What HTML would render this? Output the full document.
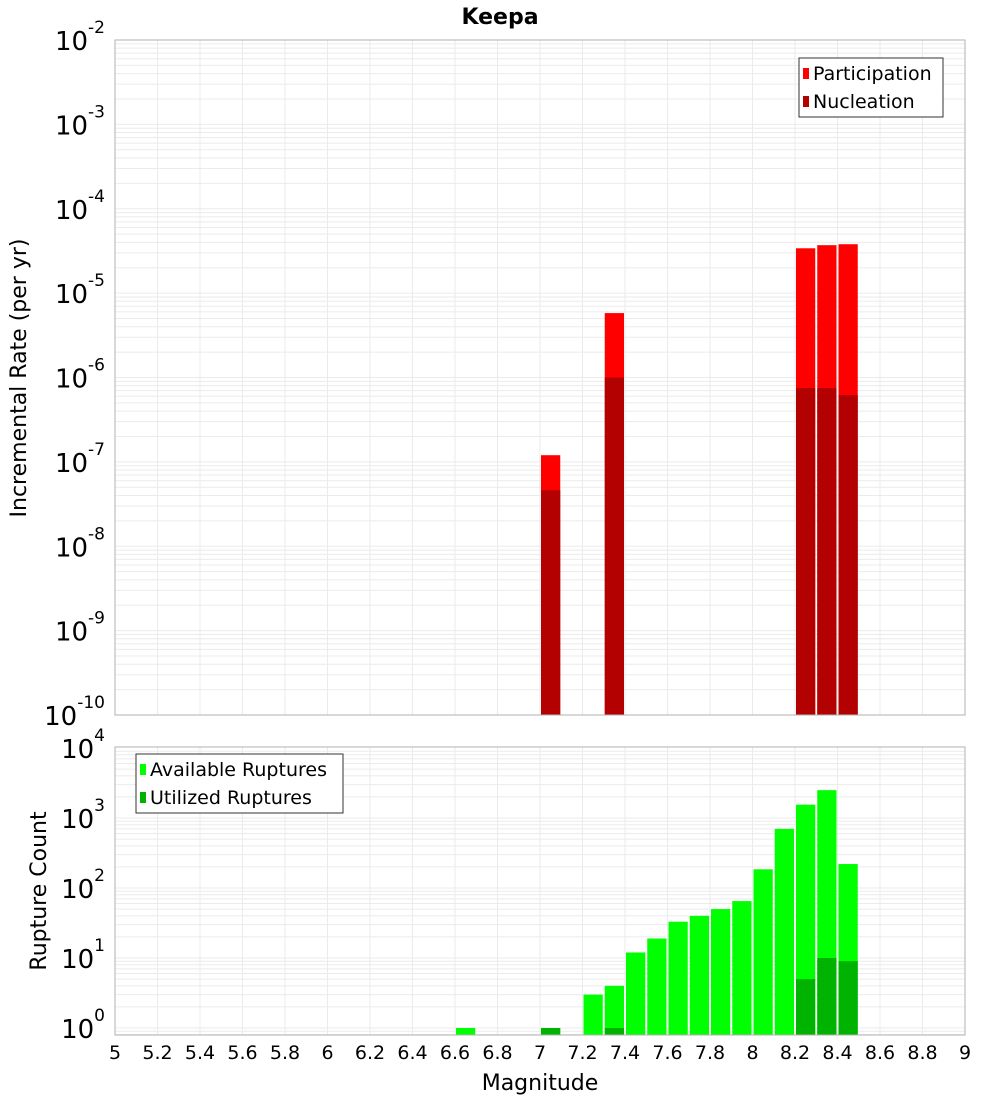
<!DOCTYPE html>
<html><head><meta charset="utf-8"><style>
body{margin:0;background:#fff;}
svg{display:block;font-family:"DejaVu Sans","Liberation Sans",sans-serif;}
</style></head><body>
<svg id="c" width="1000" height="1100" xmlns="http://www.w3.org/2000/svg"></svg>
<script>
// Top panel data
const topMags = [7.05, 7.35, 8.25, 8.35, 8.45];
const participation = [1.2e-7, 5.8e-6, 3.4e-5, 3.7e-5, 3.8e-5];
const nucleation = [4.6e-8, 1.0e-6, 7.5e-7, 7.5e-7, 6.2e-7];
// Bottom panel data
const botMags = [6.65, 7.05, 7.25, 7.35, 7.45, 7.55, 7.65, 7.75, 7.85, 7.95, 8.05, 8.15, 8.25, 8.35, 8.45];
const available = [1, 1, 3, 4, 12, 19, 33, 40, 50, 65, 185, 700, 1550, 2500, 220];
const utilized = [0, 1, 0, 1, 0, 0, 0, 0, 0, 0, 0, 0, 5, 10, 9];
const xTicks = [5,5.2,5.4,5.6,5.8,6,6.2,6.4,6.6,6.8,7,7.2,7.4,7.6,7.8,8,8.2,8.4,8.6,8.8,9];
const topExps = [-2,-3,-4,-5,-6,-7,-8,-9,-10];
const botExps = [4,3,2,1,0];

const NS="http://www.w3.org/2000/svg";
const svg=document.getElementById('c');
function mk(tag,attrs,parent){const e=document.createElementNS(NS,tag);for(const k in attrs)e.setAttribute(k,attrs[k]);(parent||svg).appendChild(e);return e;}
const X0=115,X1=965;
const x=m=>X0+(m-5)/4*(X1-X0);
const T0=40,T1=715;
const yT=v=>T0+(-2-Math.log10(v))/8*(T1-T0);
const B0=747,B1=1035,BD=70,Bz=1028;
const yB=v=>Bz-Math.log10(v)*BD;

function grid(top,bot,yfun,lo,hi){
  for(let e=lo;e<hi;e++){for(let k=1;k<10;k++){const yy=yfun(k*Math.pow(10,e));if(yy<top||yy>bot)continue;
    const l=mk('line',{x1:X0,x2:X1,y1:yy,y2:yy,stroke:'#ebebeb','stroke-width':1});
    
    }}
  xTicks.forEach(t=>{const l=mk('line',{x1:x(t),x2:x(t),y1:top,y2:bot,stroke:'#ebebeb','stroke-width':1});
    
    });
}
grid(T0,T1,yT,-10,-2);
grid(B0,B1,yB,-1,4);

// bars top
const w=x(5.1)-x(5);
topMags.forEach((m,i)=>{
  const r=mk('rect',{x:x(m)-w/2+1,y:yT(participation[i]),width:w-2,height:T1-yT(participation[i]),fill:'#ff0000'});
  
  
  const n=mk('rect',{x:x(m)-w/2+1,y:yT(nucleation[i]),width:w-2,height:T1-yT(nucleation[i]),fill:'#b30000'});
  
  
});
botMags.forEach((m,i)=>{
  const r=mk('rect',{x:x(m)-w/2+1,y:yB(available[i]),width:w-2,height:B1-yB(available[i]),fill:'#00ff00'});
  
  
  if(utilized[i]>0){
  const n=mk('rect',{x:x(m)-w/2+1,y:yB(utilized[i]),width:w-2,height:B1-yB(utilized[i]),fill:'#00b300'});
  
  }
});

// frames
const f1=mk('rect',{x:X0,y:T0,width:X1-X0,height:T1-T0,fill:'none',stroke:'#b0b0b0'});


const f2=mk('rect',{x:X0,y:B0,width:X1-X0,height:B1-B0,fill:'none',stroke:'#b0b0b0'});



// y tick labels
function ylab(e,yy,name){
  const t=mk('text',{x:105,y:yy+10,'text-anchor':'end','font-size':26,fill:'#000'});
  
  
  const a=mk('tspan',{},t);a.textContent='10';
  const b=mk('tspan',{dy:-17,'font-size':17},t);b.textContent=String(e);
}
topExps.forEach(e=>ylab(e,yT(Math.pow(10,e)),'top-y-tick-label'));
botExps.forEach(e=>ylab(e,yB(Math.pow(10,e)),'bottom-y-tick-label'));
xTicks.forEach(t=>{const l=mk('text',{x:x(t),y:1059,'text-anchor':'middle','font-size':19,fill:'#000'});
  l.textContent=String(t);
  
  });

function txt(s,attrs,name){const t=mk('text',attrs);t.textContent=s;return t;}
txt('Keepa',{x:500,y:24,'text-anchor':'middle','font-size':22,'font-weight':'bold'},'chart-title');
txt('Magnitude',{x:540,y:1090,'text-anchor':'middle','font-size':22},'x-axis-title');
txt('Incremental Rate (per yr)',{x:0,y:0,'text-anchor':'middle','font-size':22,transform:'translate(26,378) rotate(-90)'},'top-y-axis-title');
txt('Rupture Count',{x:0,y:0,'text-anchor':'middle','font-size':22,transform:'translate(46,891) rotate(-90)'},'bottom-y-axis-title');

// legends
function legend(x0,y0,w0,items,name){
  const g=mk('g',{});
  mk('rect',{x:x0,y:y0,width:w0,height:59,fill:'#fff',stroke:'#333'},g);
  items.forEach((it,i)=>{
    mk('rect',{x:x0+4,y:y0+10+i*28,width:6,height:11,fill:it[1]},g);
    const t=mk('text',{x:x0+14,y:y0+22+i*28,'font-size':19},g);t.textContent=it[0];
  });
}
legend(799,58,144,[['Participation','#ff0000'],['Nucleation','#b30000']],'top-legend');
legend(136,754,207,[['Available Ruptures','#00ff00'],['Utilized Ruptures','#00b300']],'bottom-legend');
</script>
</body></html>
